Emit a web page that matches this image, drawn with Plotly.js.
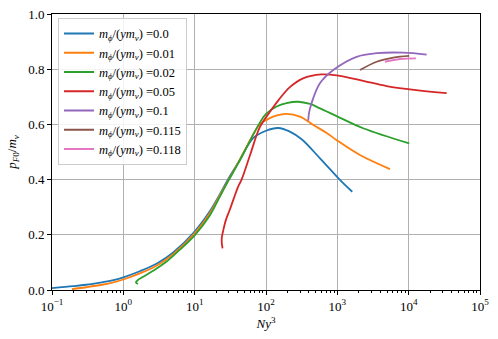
<!DOCTYPE html>
<html><head><meta charset="utf-8">
<script src="https://cdn.plot.ly/plotly-3.0.1.min.js"></script>
<style>body{margin:0;padding:0;background:#fff}#chart{width:498px;height:339px}</style>
</head><body><div id="chart"></div>
<script>
const labels = ["0.0","0.01","0.02","0.05","0.1","0.115","0.118"];
const colors = ["#1f77b4","#ff7f0e","#2ca02c","#d62728","#9467bd","#8c564b","#e377c2"];

const x0 = [0.1,0.2,0.3,0.5,0.7,1,1.7,3,5,10,16.3,22,30,43,66,100,148,216,316,572,1087,1620];
const y0 = [0.007,0.014,0.019,0.028,0.035,0.046,0.068,0.097,0.136,0.212,0.285,0.342,0.405,0.471,0.55,0.577,0.587,0.574,0.546,0.477,0.399,0.356];

const x1 = [0.19,0.3,0.5,0.7,1,1.7,3,5,10,16.3,22,30,40,55,70,82,100,126,194,299,459,700,978,2075,5470];
const y1 = [0.003,0.010,0.019,0.027,0.038,0.06,0.09,0.13,0.205,0.278,0.338,0.4,0.458,0.525,0.575,0.6,0.615,0.628,0.638,0.628,0.598,0.57,0.543,0.489,0.438];

const x2 = [1.6,1.5,1.6,1.9,3,4.04,6.2,10,16.3,22,30,40,55,80,100,141,194,282,413,572,978,2300,10190];
const y2 = [0.022,0.028,0.036,0.048,0.08,0.103,0.146,0.198,0.27,0.333,0.398,0.455,0.523,0.602,0.638,0.665,0.677,0.682,0.674,0.658,0.63,0.586,0.531];

const x3 = [24.6,24.0,24.0,25.2,27.5,31,40.6,45.5,60,82,113,150,216,331,600,978,2307,4900,10400,34100];
const y3 = [0.151,0.17,0.19,0.217,0.255,0.29,0.374,0.4,0.49,0.59,0.645,0.688,0.735,0.767,0.781,0.778,0.758,0.739,0.727,0.713];

const x4 = [391,400,434,570,877,1863,3558,8400,17870];
const y4 = [0.613,0.64,0.676,0.749,0.797,0.845,0.858,0.860,0.853];

const x5 = [2075,3558,6080,10190];
const y5 = [0.797,0.827,0.842,0.848];

const x6 = [4655,7550,12650];
const y6 = [0.827,0.837,0.839];

const xs = [x0,x1,x2,x3,x4,x5,x6];
const ys = [y0,y1,y2,y3,y4,y5,y6];

const traces = xs.map((x,i)=>({
  x: x, y: ys[i], type:'scatter', mode:'lines',
  line:{color:colors[i], width:1.8, shape:'spline', smoothing:1},
  name: '<i>m</i><sub><i>ϕ</i></sub>/(<i>ym</i><sub><i>ν</i></sub>) =' + labels[i]
}));

const fam = '"Liberation Serif", "DejaVu Serif", serif';
const minorVals = [];
[0.1,1,10,100,1000,10000].forEach(d=>{for(let k=2;k<=9;k++) minorVals.push(d*k);});

const layout = {
  width:498, height:339,
  margin:{l:52, r:18, t:14, b:49},
  paper_bgcolor:'#fff', plot_bgcolor:'#fff',
  font: {family:fam, size:13, color:'#000'},
  showlegend:true,
  legend:{x:0.014, y:0.986, xanchor:'left', yanchor:'top', bgcolor:'rgba(255,255,255,0.85)',
    bordercolor:'#cccccc', borderwidth:1, font:{family:fam, size:12.5, color:'#000'},
    tracegroupgap:0, itemwidth:30},
  xaxis:{type:'log', range:[-1,5], showline:true, linecolor:'#000', linewidth:1, mirror:true,
    ticks:'outside', ticklen:4, tickcolor:'#000', tickwidth:1,
    tickvals:[0.1,1,10,100,1000,10000,100000],
    ticktext:['10<sup>−1</sup>','10<sup>0</sup>','10<sup>1</sup>','10<sup>2</sup>','10<sup>3</sup>','10<sup>4</sup>','10<sup>5</sup>'],
    tickfont:{family:fam, size:13},
    showgrid:true, gridcolor:'#b0b0b0', gridwidth:1, zeroline:false,
    minor:{ticks:'outside', ticklen:2, tickcolor:'#000', tickvals:minorVals, showgrid:false},
    title:{text:'<i>Ny</i><sup>3</sup>', font:{family:fam, size:13}, standoff:6}},
  yaxis:{range:[0,1], showline:true, linecolor:'#000', linewidth:1, mirror:true,
    ticks:'outside', ticklen:4, tickcolor:'#000', tickwidth:1,
    tickvals:[0,0.2,0.4,0.6,0.8,1.0], ticktext:['0.0','0.2','0.4','0.6','0.8','1.0'],
    tickfont:{family:fam, size:13},
    showgrid:true, gridcolor:'#b0b0b0', gridwidth:1, zeroline:false,
    title:{text:'<i>p</i><sub><i>F</i>0</sub>/<i>m</i><sub><i>ν</i></sub>', font:{family:fam, size:13}, standoff:8}}
};
Plotly.newPlot('chart', traces, layout, {displayModeBar:false, staticPlot:true});
</script></body></html>
